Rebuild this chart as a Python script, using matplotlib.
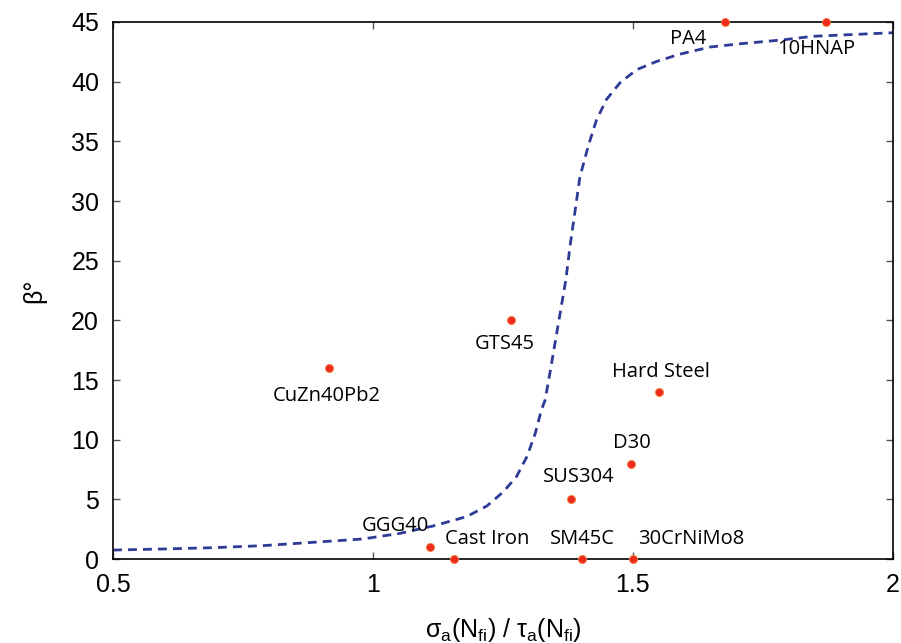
import numpy as np
import matplotlib
matplotlib.use("Agg")
import matplotlib.pyplot as plt

# material points: sigma_a/tau_a ratio vs beta angle
names = ["CuZn40Pb2", "GTS45", "Hard Steel", "D30", "SUS304", "GGG40",
         "Cast Iron", "SM45C", "30CrNiMo8", "PA4", "10HNAP"]
ratio = [0.915, 1.265, 1.55, 1.496, 1.38, 1.11, 1.155, 1.403, 1.50, 1.678, 1.872]
beta = [16, 20, 14, 8, 5, 1, 0, 0, 0, 45, 45]

# fitted curve
curve_x = [0.5, 0.596, 0.692, 0.788, 0.885, 0.981, 1.052, 1.115, 1.18, 1.219,
           1.251, 1.276, 1.296, 1.312, 1.324, 1.331, 1.342, 1.36, 1.371, 1.379,
           1.398, 1.414, 1.43, 1.449, 1.475, 1.507, 1.546, 1.59, 1.648, 1.712,
           1.788, 1.846, 2.0]
curve_y = [0.75, 0.84, 0.95, 1.12, 1.4, 1.68, 2.15, 2.76, 3.55, 4.44,
           5.64, 6.9, 8.57, 10.5, 12.5, 13.3, 16.0, 20.6, 23.4, 26.2,
           32.0, 34.6, 36.8, 38.5, 39.9, 41.0, 41.7, 42.3, 42.9, 43.2,
           43.5, 43.8, 44.1]

# label offsets in pixels (dx, dy), alignment
offsets = [(-2, -28, "center"), (-6, -24, "center"), (2, 20, "center"),
           (1, 21, "center"), (8, 22, "center"), (-35, 21, "center"),
           (-9, 20, "left"), (0, 20, "center"), (5, 20, "left"),
           (-37, -17, "center"), (-10, -27, "center")]

fig = plt.figure(figsize=(9.01, 6.43), dpi=100)
ax = fig.add_axes([0.1254, 0.1306, 0.8656, 0.8352])

ax.plot(curve_x, curve_y, color="#2e3b96", lw=2.0, ls=(0, (3.2, 2.2)))
ax.scatter(ratio, beta, s=34, color="#ee2b1f", edgecolor="#f5823c",
           linewidth=0.6, zorder=3, clip_on=False)

for n, x, y, (dx, dy, ha) in zip(names, ratio, beta, offsets):
    ax.annotate(n, (x, y), xytext=(dx, dy), textcoords="offset pixels",
                ha=ha, va="center", fontsize=14.5, family="Open Sans")

ax.set_xlim(0.5, 2)
ax.set_ylim(0, 45)
ax.set_xticks([0.5, 1, 1.5, 2])
ax.set_xticklabels(["0.5", "1", "1.5", "2"])
ax.set_yticks(np.arange(0, 46, 5))
ax.tick_params(direction="in", length=5, width=1, color="#555555",
               top=True, right=True, labelsize=18, pad=10)
for lab in ax.get_xticklabels() + ax.get_yticklabels():
    lab.set_family("Liberation Sans")
for s in ax.spines.values():
    s.set_linewidth(1.2)

plt.rcParams["mathtext.default"] = "regular"
ax.set_xlabel(r"$\sigma_a(N_{fi})$ / $\tau_a(N_{fi})$", fontsize=18,
              family="Liberation Sans", labelpad=14)
ax.set_ylabel("β°", fontsize=18, family="Liberation Sans", labelpad=18)

fig.savefig("out.png", dpi=100)
